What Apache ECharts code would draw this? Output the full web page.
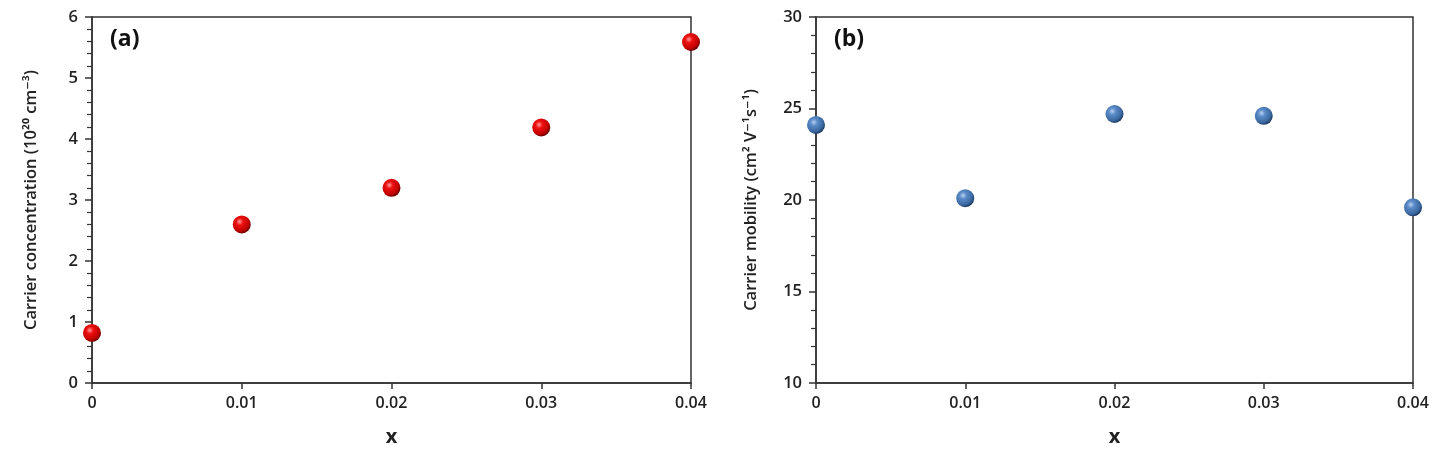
<!DOCTYPE html>
<html><head><meta charset="utf-8">
<script src="https://cdn.jsdelivr.net/npm/echarts@6/dist/echarts.min.js"></script>
<style>html,body{margin:0;padding:0;background:#fff}#c{width:1441px;height:458px}</style>
</head><body><div id="c"></div>
<script>
const xValues = [0, 0.01, 0.02, 0.03, 0.04];
const concentration = [0.82, 2.6, 3.2, 4.19, 5.59];
const mobility = [24.1, 20.1, 24.7, 24.6, 19.6];
const xTickLabels = ['0', '0.01', '0.02', '0.03', '0.04'];

const chart = echarts.init(document.getElementById('c'));
const font = '"Open Sans", "DejaVu Sans", sans-serif';
const axisColor = '#333';

function xAxis(idx) {
  return {
    type: 'value', gridIndex: idx, min: 0, max: 0.04, interval: 0.01,
    name: 'x', nameLocation: 'middle', nameGap: 44,
    nameTextStyle: { fontFamily: font, fontWeight: 'bold', fontSize: 20, color: '#222' },
    axisLine: { show: true, lineStyle: { color: axisColor, width: 1.5 } },
    axisTick: { show: true, inside: false, length: 6, lineStyle: { color: axisColor, width: 1.5 } },
    axisLabel: { fontFamily: font, fontWeight: 600, fontSize: 16, color: '#222', margin: 12,
      formatter: v => xTickLabels[Math.round(v / 0.01)] },
    splitLine: { show: false }
  };
}
function yAxis(idx, min, max, interval, name, gap) {
  return {
    type: 'value', gridIndex: idx, min: min, max: max, interval: interval,
    name: name, nameLocation: 'middle', nameGap: gap,
    nameTextStyle: { fontFamily: font, fontWeight: 600, fontSize: 16.5, color: '#222' },
    axisLine: { show: true, lineStyle: { color: axisColor, width: 1.5 } },
    axisTick: { show: true, length: 7, lineStyle: { color: axisColor, width: 1.5 } },
    minorTick: { show: true, splitNumber: 5, length: 5, lineStyle: { color: axisColor, width: 1.2 } },
    axisLabel: { fontFamily: font, fontWeight: 600, fontSize: 16.5, color: '#222', margin: 14 },
    splitLine: { show: false }
  };
}
const redBall = {
  type: 'radial', x: 0.38, y: 0.35, r: 0.65,
  colorStops: [{ offset: 0, color: '#ff9a9a' }, { offset: 0.3, color: '#ee1111' }, { offset: 0.8, color: '#c00000' }, { offset: 1, color: '#700000' }]
};
const blueBall = {
  type: 'radial', x: 0.38, y: 0.35, r: 0.65,
  colorStops: [{ offset: 0, color: '#b8d0ee' }, { offset: 0.3, color: '#5b8cc8' }, { offset: 0.8, color: '#3a679f' }, { offset: 1, color: '#1f3d66' }]
};

chart.setOption({
  animation: false,
  grid: [
    { left: 92, right: 750, top: 17, bottom: 75, show: true, borderColor: axisColor, borderWidth: 1.5 },
    { left: 816, right: 28, top: 17, bottom: 75, show: true, borderColor: axisColor, borderWidth: 1.5 }
  ],
  xAxis: [xAxis(0), xAxis(1)],
  yAxis: [
    yAxis(0, 0, 6, 1, 'Carrier concentration (10²⁰ cm⁻³)', 52),
    yAxis(1, 10, 30, 5, 'Carrier mobility (cm² V⁻¹s⁻¹)', 56)
  ],
  graphic: [
    { type: 'text', left: 110, top: 28, style: { text: '(a)', font: 'bold 23px "Open Sans", sans-serif', fill: '#111' } },
    { type: 'text', left: 834, top: 28, style: { text: '(b)', font: 'bold 23px "Open Sans", sans-serif', fill: '#111' } }
  ],
  series: [
    { type: 'scatter', xAxisIndex: 0, yAxisIndex: 0, symbolSize: 18,
      data: xValues.map((x, i) => [x, concentration[i]]),
      itemStyle: { color: redBall, opacity: 1 } },
    { type: 'scatter', xAxisIndex: 1, yAxisIndex: 1, symbolSize: 18,
      data: xValues.map((x, i) => [x, mobility[i]]),
      itemStyle: { color: blueBall, opacity: 1 } }
  ]
});
</script></body></html>
